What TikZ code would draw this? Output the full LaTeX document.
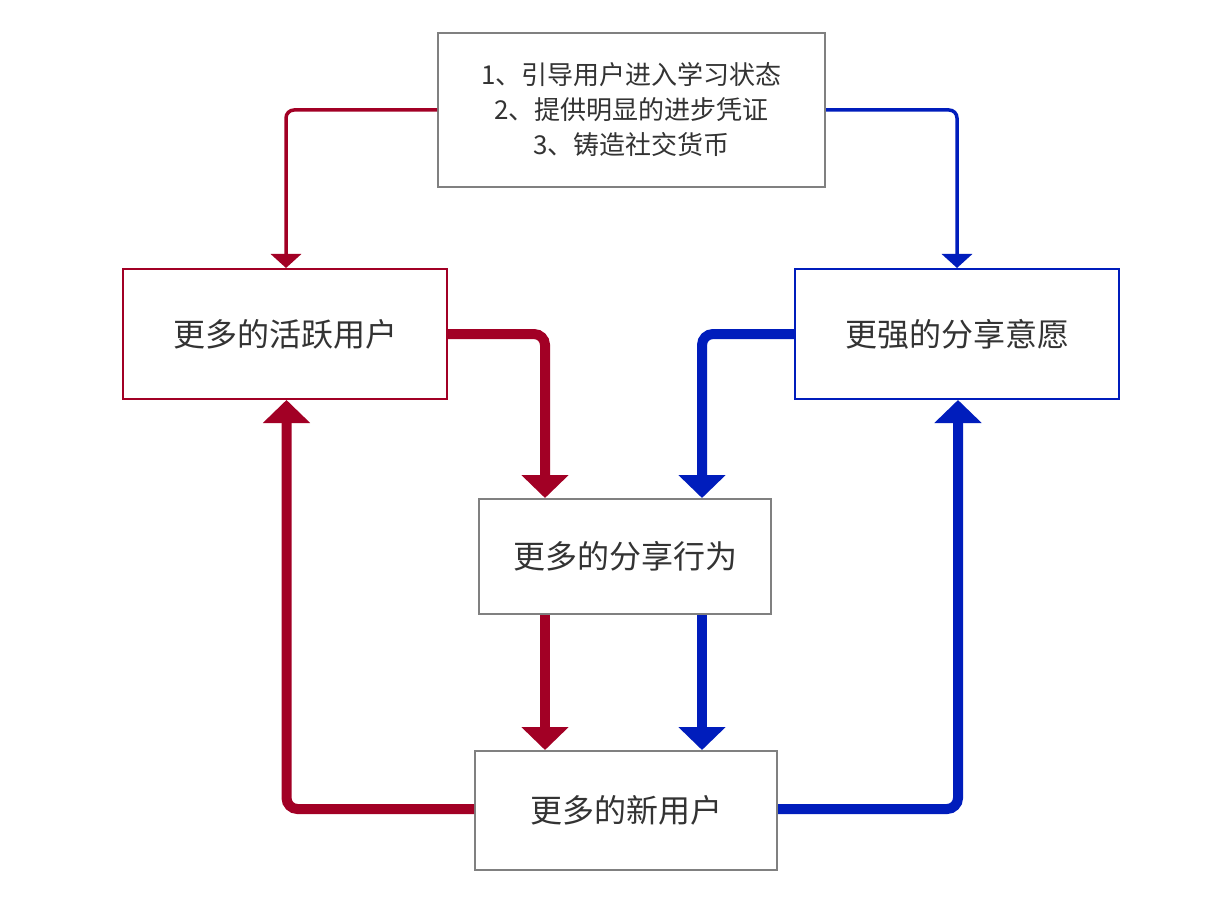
\documentclass[tikz,border=0pt]{standalone}
\usepackage{fontspec}
\setmainfont{Noto Sans CJK SC}
\usetikzlibrary{arrows.meta,calc}
\definecolor{myred}{HTML}{A20025}
\definecolor{myblue}{HTML}{001DBC}
\definecolor{mygray}{HTML}{808080}
\definecolor{mytext}{HTML}{333333}
\tikzset{
  box/.style={draw=mygray, line width=2pt, fill=white, text=mytext, inner sep=0pt, font=\fontsize{32}{38}\selectfont},
  redbox/.style={box, draw=myred},
  bluebox/.style={box, draw=myblue},
  thinarrow/.style={line width=3.5pt, rounded corners=8pt, -{Triangle[width=30pt,length=14pt]}},
  thickarrow/.style={line width=10pt, rounded corners=11pt, -{Triangle[width=46pt,length=23pt]}},
}
\begin{document}
\begin{tikzpicture}[x=1pt,y=-1pt]
\useasboundingbox[fill=white] (0,0) rectangle (1208,912);
\node[box, minimum width=387pt, minimum height=154pt, align=center, font=\fontsize{26}{35}\selectfont] (top) at (631.5,110) {1、引导用户进入学习状态\\2、提供明显的进步凭证\\3、铸造社交货币};
\node[redbox, minimum width=324pt, minimum height=130pt] (left) at (285,334) {更多的活跃用户};
\node[bluebox, minimum width=324pt, minimum height=130pt] (right) at (957,334) {更强的分享意愿};
\node[box, minimum width=292pt, minimum height=115pt] (mid) at (625,556.5) {更多的分享行为};
\node[box, minimum width=302pt, minimum height=119pt] (bot) at (626,810.5) {更多的新用户};

\draw[thinarrow, myred] (top.west) -| ([xshift=1pt]left.north);
\draw[thinarrow, myblue] (top.east) -| (right.north);

\draw[thickarrow, myred] (left.east) -| ([xshift=67pt]mid.north west);
\draw[thickarrow, myblue] (right.west) -| ([xshift=-70pt]mid.north east);

\draw[thickarrow, myred] ([xshift=67pt]mid.south west) -- ([xshift=67pt]mid.south west |- bot.north);
\draw[thickarrow, myblue] ([xshift=-70pt]mid.south east) -- ([xshift=-70pt]mid.south east |- bot.north);

\draw[thickarrow, myred] ([yshift=1.5pt]bot.west) -| ([xshift=1.5pt]left.south);
\draw[thickarrow, myblue] ([yshift=1.5pt]bot.east) -| ([xshift=1pt]right.south);
\end{tikzpicture}
\end{document}
